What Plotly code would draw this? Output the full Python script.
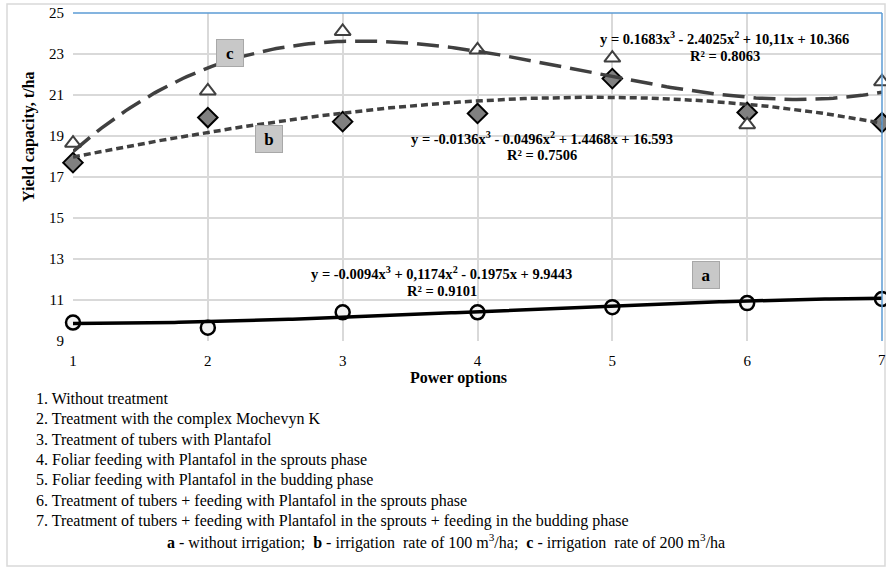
import numpy as np
import plotly.graph_objects as go

# ---- data ----
options = [1, 2, 3, 4, 5, 6, 7]
yield_a = [9.9, 9.65, 10.4, 10.4, 10.65, 10.85, 11.05]    # without irrigation
yield_b = [17.7, 19.9, 19.7, 20.1, 21.8, 20.15, 19.65]    # 100 m3/ha
yield_c = [18.65, 21.2, 24.1, 23.2, 22.8, 19.55, 21.65]   # 200 m3/ha

# polynomial trend coefficients (x^3, x^2, x, 1) as printed on the chart
trend_a = [-0.0094, 0.1174, -0.1975, 9.9443]
trend_b = [-0.0136, -0.0496, 1.4468, 16.593]
trend_c = [0.1683, -2.4025, 10.11, 10.366]

eq_a = "y = -0.0094x<sup>3</sup> + 0,1174x<sup>2</sup> - 0.1975x + 9.9443"
r2_a = "R² = 0.9101"
eq_b = "y = -0.0136x<sup>3</sup> - 0.0496x<sup>2</sup> + 1.4468x + 16.593"
r2_b = "R² = 0.7506"
eq_c = "y = 0.1683x<sup>3</sup> - 2.4025x<sup>2</sup> + 10,11x + 10.366"
r2_c = "R² = 0.8063"

x_ticks = [1, 2, 3, 4, 5, 6, 7]
y_ticks = [9, 11, 13, 15, 17, 19, 21, 23, 25]

notes = [
    "1. Without treatment",
    "2. Treatment with the complex Mochevyn K",
    "3. Treatment of tubers with Plantafol",
    "4. Foliar feeding with Plantafol in the sprouts phase",
    "5. Foliar feeding with Plantafol in the budding phase",
    "6. Treatment of tubers + feeding with Plantafol in the sprouts phase",
    "7. Treatment of tubers + feeding with Plantafol in the sprouts + feeding in the budding phase",
]
key_line = ("<b>a</b> - without irrigation;  <b>b</b> - irrigation  rate of 100 m<sup>3</sup>/ha;  "
            "<b>c</b> - irrigation  rate of 200 m<sup>3</sup>/ha")

# ---- layout geometry ----
W, H = 886, 568
L, R, T, B = 73, 4, 13, 227
PW, PH = W - L - R, H - T - B

def px(x):
    return (x - L) / PW

def py(y):
    return (H - B - y) / PH

FONT = "Liberation Serif"

fig = go.Figure()

xs = np.linspace(1, 7, 200)

# markers
fig.add_trace(go.Scatter(x=options, y=yield_a, mode="markers", cliponaxis=False,
                         marker=dict(symbol="circle", size=14, color="#f2f2f2",
                                     line=dict(color="black", width=2.5)),
                         showlegend=False, hoverinfo="skip"))
fig.add_trace(go.Scatter(x=options, y=yield_b, mode="markers", cliponaxis=False,
                         marker=dict(symbol="diamond", size=15, color="#808080",
                                     line=dict(color="black", width=2)),
                         showlegend=False, hoverinfo="skip"))
fig.add_trace(go.Scatter(x=options, y=yield_c, mode="markers", cliponaxis=False,
                         marker=dict(symbol="triangle-up", size=14, color="white",
                                     line=dict(color="#404040", width=2)),
                         showlegend=False, hoverinfo="skip"))

# trend lines
fig.add_trace(go.Scatter(x=xs, y=np.polyval(trend_a, xs), mode="lines",
                         line=dict(color="black", width=3.5),
                         showlegend=False, hoverinfo="skip"))
fig.add_trace(go.Scatter(x=xs, y=np.polyval(trend_b, xs), mode="lines",
                         line=dict(color="#404040", width=3.5, dash="7px,4px"),
                         showlegend=False, hoverinfo="skip"))
fig.add_trace(go.Scatter(x=xs, y=np.polyval(trend_c, xs), mode="lines",
                         line=dict(color="#404040", width=3.5, dash="22px,9px"),
                         showlegend=False, hoverinfo="skip"))

ann = []
eqfont = dict(family=FONT, size=14.5, color="black")
# equations (data coordinates)
for (xx, yy, t) in [(3.733, 12.32, eq_a), (3.733, 11.44, r2_a),
                    (4.48, 18.90, eq_b), (4.48, 18.07, r2_b),
                    (5.833, 23.78, eq_c), (5.833, 22.90, r2_c)]:
    ann.append(dict(x=xx, y=yy, xref="x", yref="y", text="<b>" + t + "</b>",
                    showarrow=False, font=eqfont, xanchor="center", yanchor="middle"))

# series labels
for (xx, yy, t) in [(2.163, 23.05, "c"), (2.452, 18.85, "b"), (5.696, 12.22, "a")]:
    ann.append(dict(x=xx, y=yy, xref="x", yref="y", text="<b>" + t + "</b>",
                    showarrow=False, font=dict(family=FONT, size=17, color="black"),
                    bgcolor="#c8c8c8", bordercolor="#a8a8a8", borderwidth=1, borderpad=3,
                    width=20, height=20, xanchor="center", yanchor="middle"))

# last x tick label (sits on the page edge, partly cut like the original)
ann.append(dict(x=x_ticks[-1], y=py(360), xref="x", yref="paper", text=str(x_ticks[-1]),
                showarrow=False, font=dict(family=FONT, size=15, color="black"),
                xanchor="center", yanchor="middle"))

# axis titles
ann.append(dict(x=px(29), y=py(137), xref="paper", yref="paper",
                text="<b>Yield capacity, t/ha</b>", textangle=-90, showarrow=False,
                font=dict(family=FONT, size=16, color="black"),
                xanchor="center", yanchor="middle"))
ann.append(dict(x=px(458), y=py(378), xref="paper", yref="paper",
                text="<b>Power options</b>", showarrow=False,
                font=dict(family=FONT, size=16, color="black"),
                xanchor="center", yanchor="middle"))

# notes
for i, t in enumerate(notes):
    ann.append(dict(x=px(34), y=py(398 + i * 20.5), xref="paper", yref="paper",
                    text=t, showarrow=False, font=dict(family=FONT, size=16, color="black"),
                    xanchor="left", yanchor="middle"))
ann.append(dict(x=px(446), y=py(541), xref="paper", yref="paper",
                text=key_line, showarrow=False, font=dict(family=FONT, size=16, color="black"),
                xanchor="center", yanchor="middle"))

shapes = [
    # outer chart frame
    dict(type="rect", xref="paper", yref="paper", x0=px(7), x1=px(885), y0=py(566), y1=py(4),
         line=dict(color="#d9d9d9", width=1.5), layer="below"),
    # plot area top and right borders (blue)
    dict(type="line", xref="paper", yref="paper", x0=0, x1=1, y0=1, y1=1,
         line=dict(color="#5b9bd5", width=1.5)),
    dict(type="line", xref="paper", yref="paper", x0=1, x1=1, y0=0, y1=1,
         line=dict(color="#5b9bd5", width=1.5)),
]

fig.update_layout(
    width=W, height=H,
    margin=dict(l=L, r=R, t=T, b=B, pad=0),
    paper_bgcolor="white", plot_bgcolor="white",
    annotations=ann, shapes=shapes,
    xaxis=dict(range=[1, 7], tickvals=x_ticks, showgrid=True, gridcolor="#d9d9d9", gridwidth=1.5,
               zeroline=False, showline=False, ticks="", ticklabelstandoff=9,
               tickfont=dict(family=FONT, size=15, color="black")),
    yaxis=dict(range=[9, 25], tickvals=y_ticks, showgrid=True, gridcolor="#d9d9d9", gridwidth=1.5,
               zeroline=False, showline=False, ticks="", ticklabelstandoff=8,
               tickfont=dict(family=FONT, size=15, color="black")),
)

fig.write_html("out.html", config={"displayModeBar": False},
               post_script="document.body.style.margin='0px';document.body.style.padding='0px';")
